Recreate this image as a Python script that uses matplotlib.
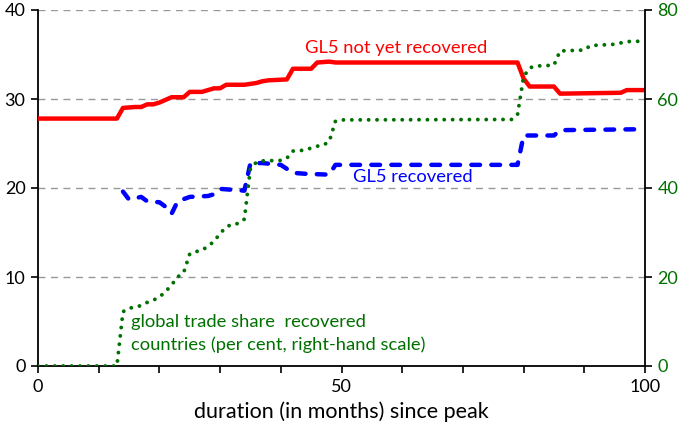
import matplotlib
matplotlib.use("Agg")
import matplotlib.pyplot as plt

plt.rcParams['font.family'] = ['Lato', 'DejaVu Sans']

# GL5 not yet recovered (left scale)
red_months = [0, 13, 14, 16, 17, 18, 19, 20, 21, 22, 24, 25, 27, 28, 29, 30, 31, 34, 35, 36, 37, 38, 41, 42, 45, 46, 48, 49, 79, 80, 81, 85, 86, 96, 97, 100]
red_values = [27.8, 27.8, 29.0, 29.1, 29.1, 29.4, 29.4, 29.6, 29.9, 30.2, 30.2, 30.8, 30.8, 31.0, 31.2, 31.2, 31.6, 31.6, 31.7, 31.8, 32.0, 32.1, 32.2, 33.4, 33.4, 34.1, 34.2, 34.1, 34.1, 32.3, 31.4, 31.4, 30.6, 30.7, 31.0, 31.0]

# GL5 recovered (left scale)
blue_months = [14, 15, 17, 18, 20, 21, 22, 23, 25, 28, 29, 30, 34, 35, 37, 40, 42, 44, 48, 49, 79, 80, 85, 86, 99]
blue_values = [19.6, 18.7, 19.0, 18.5, 18.4, 17.9, 17.1, 18.5, 19.0, 19.1, 19.3, 19.9, 19.7, 22.8, 22.8, 22.6, 21.7, 21.6, 21.5, 22.6, 22.6, 25.9, 25.9, 26.5, 26.6]

# global trade share of recovered countries (right scale, per cent)
green_months = [0, 13, 14, 15, 16, 17, 18, 19, 20, 21, 22, 23, 24, 25, 26, 27, 28, 29, 30, 31, 32, 33, 34, 35, 36, 37, 40, 41, 42, 44, 45, 46, 47, 48, 49, 50, 78, 79, 80, 81, 82, 85, 86, 90, 91, 95, 96, 97, 100]
green_values = [0, 0, 12.2, 13.0, 13.2, 13.6, 14.3, 14.8, 15.5, 16.7, 18.2, 20.0, 21.0, 25.2, 25.7, 26.0, 26.9, 28.0, 29.8, 31.2, 31.9, 32.0, 33.0, 44.5, 45.8, 46.1, 46.2, 46.7, 48.3, 48.5, 49.0, 49.4, 49.6, 50.5, 55.0, 55.3, 55.4, 56.5, 65.0, 67.0, 67.4, 67.6, 70.8, 71.0, 72.0, 72.3, 72.6, 72.9, 73.0]

x_ticks = [0, 10, 20, 30, 40, 50, 60, 70, 80, 90, 100]
x_ticklabels = ['0', '', '', '', '', '50', '', '', '', '', '100']
left_ticks = [0, 10, 20, 30, 40]
right_ticks = [0, 20, 40, 60, 80]

RED = '#ff0000'
BLUE = '#0000ff'
GREEN = '#007000'

fig = plt.figure(figsize=(6.85, 4.38), dpi=100)
ax = fig.add_axes([38/685, 1-366/438, (645-38)/685, (366-10)/438])
ax2 = ax.twinx()

ax.set_xlim(0, 100)
ax.set_ylim(0, 40)
ax2.set_ylim(0, 80)

for y in left_ticks[1:]:
    ax.axhline(y, color='#999999', lw=1.0, ls=(0, (5, 4)), zorder=0)

ax.plot(red_months, red_values, color=RED, lw=3.2, solid_joinstyle='round', zorder=3)
ax.plot(blue_months, blue_values, color=BLUE, lw=3.2, ls=(0, (1.95, 2.55)), dash_capstyle='round', zorder=3)
ax2.plot(green_months, green_values, color=GREEN, lw=2.8, ls=(0, (0.01, 2.15)), dash_capstyle='round', zorder=3)

ax.set_xticks(x_ticks)
ax.set_xticklabels(x_ticklabels)
ax.set_yticks(left_ticks)
ax2.set_yticks(right_ticks)

for a in (ax, ax2):
    a.spines['top'].set_visible(False)
    for s in a.spines.values():
        s.set_linewidth(1.3)
        s.set_color('black')
ax.spines['right'].set_visible(False)
ax2.spines['left'].set_visible(False)
ax2.spines['bottom'].set_visible(False)

ax.tick_params(axis='x', direction='out', length=5, width=1.2, labelsize=13, pad=4)
ax.tick_params(axis='y', direction='out', length=5, width=1.2, labelsize=13, pad=4)
ax2.tick_params(axis='y', direction='out', length=5, width=1.2, labelsize=13, pad=4, labelcolor=GREEN)

ax.set_xlabel('duration (in months) since peak', fontsize=15.5, labelpad=5)

fig.text(305/685, 1-48/438, 'GL5 not yet recovered', color=RED, fontsize=13.2, ha='left', va='center')
fig.text(353/685, 1-177/438, 'GL5 recovered', color=BLUE, fontsize=13.2, ha='left', va='center')
fig.text(131/685, 1-322/438, 'global trade share  recovered', color=GREEN, fontsize=13.2, ha='left', va='center')
fig.text(131/685, 1-345/438, 'countries (per cent, right-hand scale)', color=GREEN, fontsize=13.2, ha='left', va='center')

fig.savefig('out.png', dpi=100)
